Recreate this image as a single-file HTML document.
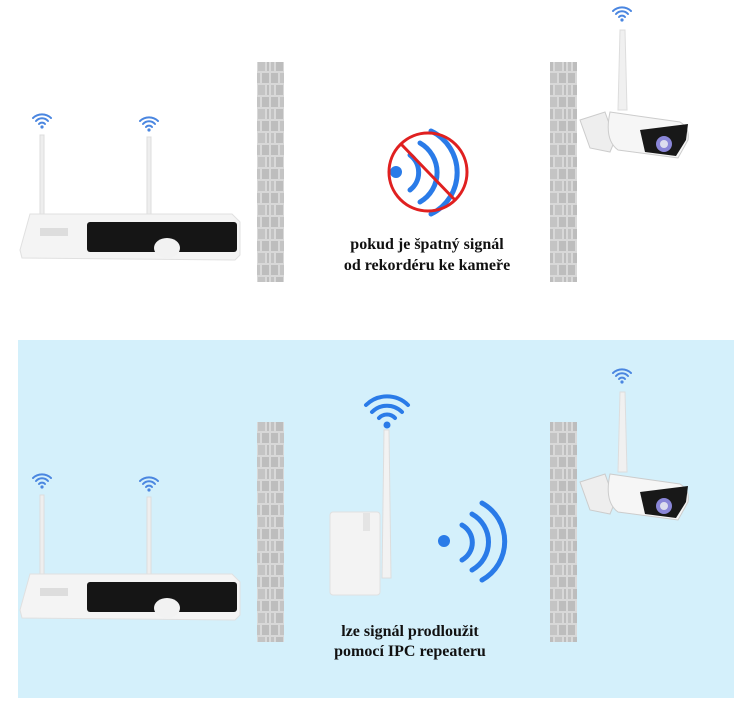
<!DOCTYPE html>
<html><head><meta charset="utf-8"><style>
html,body{margin:0;padding:0;background:#fff;}
svg{display:block}
text{font-family:"Liberation Serif",serif;font-weight:bold;font-size:16px;fill:#111;text-anchor:middle}
</style></head><body>
<svg width="747" height="716" viewBox="0 0 747 716" xmlns="http://www.w3.org/2000/svg">
<defs>
<pattern id="brick" width="27" height="24" patternUnits="userSpaceOnUse">
<rect width="27" height="24" fill="#d8d8d8"/>
<rect x="1" y="1" width="7" height="10" fill="#bdbdbd"/><rect x="10" y="1" width="7" height="10" fill="#c4c4c4"/><rect x="19" y="1" width="7" height="10" fill="#bdbdbd"/>
<rect x="1" y="13" width="3" height="10" fill="#c2c2c2"/><rect x="6" y="13" width="7" height="10" fill="#bdbdbd"/><rect x="15" y="13" width="7" height="10" fill="#c4c4c4"/><rect x="24" y="13" width="2" height="10" fill="#bdbdbd"/>
</pattern>
<g id="wifi" fill="none" stroke="#4a86e0" stroke-width="2" stroke-linecap="round">
<path d="M-9,-4 A13,13 0 0 1 9,-4"/><path d="M-6,-1 A8,8 0 0 1 6,-1"/><path d="M-3,2 A4,4 0 0 1 3,2"/><circle cx="0" cy="5" r="1.6" fill="#4a86e0" stroke="none"/>
</g>
<g id="nvr">
<rect x="40" y="135" width="4" height="80" fill="#eee" stroke="#ddd"/>
<rect x="147" y="137" width="4" height="78" fill="#eee" stroke="#ddd"/>
<use href="#wifi" x="42" y="122"/><use href="#wifi" x="149" y="125"/>
<path d="M30,214 L232,214 L240,222 L240,255 L235,260 L22,258 L20,250 Z" fill="#f4f4f4" stroke="#e0e0e0"/>
<rect x="87" y="222" width="150" height="30" rx="3" fill="#151515"/>
<ellipse cx="167" cy="248" rx="13" ry="10" fill="#f2f2f2"/>
<rect x="40" y="228" width="28" height="8" fill="#ddd"/>
</g>
<g id="cam">
<path d="M620,30 L625,30 L627,110 L618,110 Z" fill="#f0f0f0" stroke="#ddd"/>
<use href="#wifi" x="622" y="15"/>
<path d="M580,120 L605,112 L615,140 L610,152 L590,148 Z" fill="#eee" stroke="#ccc"/>
<path d="M610,112 L680,122 Q690,128 688,140 L678,158 L618,150 Q604,140 610,112 Z" fill="#f6f6f6" stroke="#ccc"/>
<path d="M640,130 L688,124 L686,140 L676,156 L645,152 Z" fill="#181818"/>
<circle cx="664" cy="144" r="8" fill="#8a86d8"/><circle cx="664" cy="144" r="4" fill="#dde"/>
</g>
</defs>
<rect x="18" y="340" width="716" height="358" fill="#d4f0fb"/>
<rect x="257" y="62" width="27" height="220" fill="url(#brick)"/>
<rect x="550" y="62" width="27" height="220" fill="url(#brick)"/>
<rect x="257" y="422" width="27" height="220" fill="url(#brick)"/>
<rect x="550" y="422" width="27" height="220" fill="url(#brick)"/>
<use href="#nvr"/>
<use href="#nvr" y="360"/>
<use href="#cam"/>
<use href="#cam" y="362"/>
<g fill="none" stroke="#2a7be8" stroke-width="5" stroke-linecap="round">
<path d="M410,155 A22,22 0 0 1 410,190"/><path d="M420,143 A34,34 0 0 1 420,202"/><path d="M431,131 A46,46 0 0 1 431,214"/>
</g>
<circle cx="396" cy="172" r="6" fill="#2a7be8"/>
<circle cx="428" cy="172" r="39" fill="none" stroke="#e02020" stroke-width="3"/>
<line x1="401" y1="144" x2="455" y2="200" stroke="#e02020" stroke-width="3"/>
<text x="427" y="249">pokud je špatný signál</text>
<text x="427" y="270">od rekordéru ke kameře</text>
<path d="M384,430 L389,430 L391,578 L382,578 Z" fill="#f2f2f2" stroke="#ddd"/>
<g fill="none" stroke="#2a7be8" stroke-width="4" stroke-linecap="round">
<path d="M366,405 A30,30 0 0 1 408,405"/><path d="M372,412 A21,21 0 0 1 402,412"/><path d="M379,418 A11,11 0 0 1 395,418"/>
</g>
<circle cx="387" cy="425" r="3.5" fill="#2a7be8"/>
<rect x="330" y="512" width="50" height="83" rx="3" fill="#f3f3f3" stroke="#e0e0e0"/>
<rect x="363" y="513" width="7" height="18" fill="#e4e4e4"/>
<g fill="none" stroke="#2a7be8" stroke-width="5" stroke-linecap="round">
<path d="M462,525 A20,20 0 0 1 462,560"/><path d="M472,514 A32,32 0 0 1 472,570"/><path d="M482,503 A44,44 0 0 1 482,580"/>
</g>
<circle cx="444" cy="541" r="6" fill="#2a7be8"/>
<text x="410" y="636">lze signál prodloužit</text>
<text x="410" y="656">pomocí IPC repeateru</text>
</svg>
</body></html>
